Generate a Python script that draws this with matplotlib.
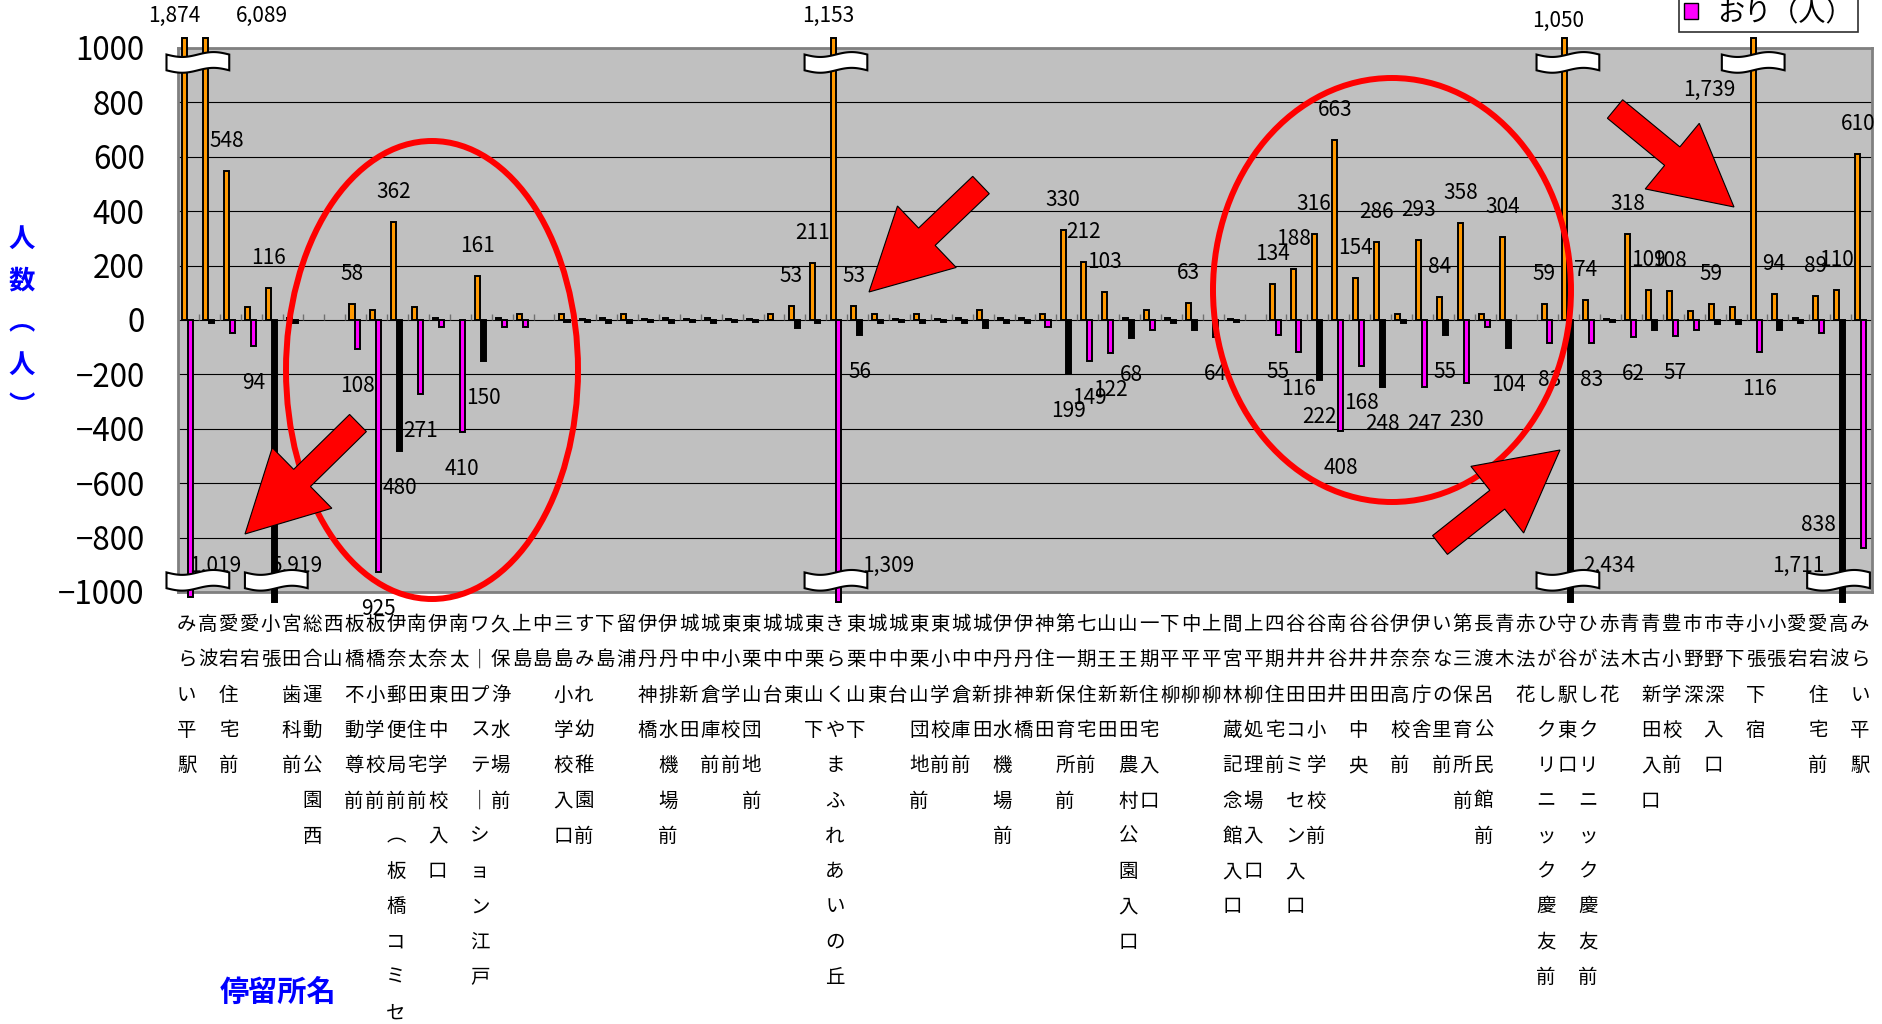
import matplotlib
matplotlib.use("Agg")
import matplotlib.pyplot as plt
import numpy as np
from matplotlib.patches import Ellipse, FancyArrow, Polygon, Patch
from matplotlib.transforms import Affine2D, blended_transform_factory

plt.rcParams['font.family'] = ['Noto Sans CJK JP', 'DejaVu Sans']

stops = [
    "みらい平駅", "高波", "愛宕住宅前", "愛宕", "小張", "宮田歯科前", "総合運動公園西", "西山",
    "板橋不動尊前", "板橋小学校前", "伊奈郵便局前（板橋コミセンター）", "南太田住宅前",
    "伊奈東中学校入口", "南太田", "ワープステーション江戸", "久保浄水場前", "上島", "中島",
    "三島小学校入口", "すみれ幼稚園前", "下島", "留浦", "伊丹神橋", "伊丹排水機場前", "城中新田",
    "城中倉庫前", "東小学校前", "東栗山団地前", "城中台", "城中東", "東栗山下",
    "きらくやまふれあいの丘", "東栗山下", "城中東", "城中台", "東栗山団地前", "東小学校前",
    "城中倉庫前", "城中新田", "伊丹排水機場前", "伊丹神橋", "神住新田", "第一保育所前",
    "七期住宅前", "山王新田", "山王新田農村公園入口", "一期住宅入口", "下平柳", "中平柳", "上平柳",
    "間宮林蔵記念館入口", "上平柳処理場入口", "四期住宅前", "谷井田コミセン入口", "谷井田小学校前",
    "南谷井", "谷井田中央", "谷井田", "伊奈高校前", "伊奈庁舎", "いなの里前", "第三保育所前",
    "長渡呂公民館前", "青木", "赤法花", "ひがしクリニック慶友前", "守谷駅東口",
    "ひがしクリニック慶友前", "赤法花", "青木", "青古新田入口", "豊小学校前", "市野深", "市野深入口",
    "寺下", "小張下宿", "小張", "愛宕", "愛宕住宅前", "高波", "みらい平駅",
]

# のり（人）
noru = [1874, 6089, 548, 48, 116, 8, 0, 0, 58, 35,
        362, 48, 8, 0, 161, 8, 23, 0, 23, 2,
        8, 23, 2, 8, 2, 8, 2, 2, 23, 53,
        211, 1153, 53, 23, 2, 23, 2, 8, 37, 8,
        8, 23, 330, 212, 103, 8, 35, 8, 63, 0,
        2, 0, 134, 188, 316, 663, 154, 286, 23, 293,
        84, 358, 23, 304, 0, 59, 1050, 74, 2, 318,
        109, 108, 33, 59, 48, 1739, 94, 8, 89, 110,
        610]

# おり（人）
oru = [1019, 12, 46, 94, 5919, 10, 0, 0, 108, 925,
       480, 271, 24, 410, 150, 24, 24, 0, 8, 8,
       10, 12, 8, 10, 8, 10, 8, 8, 0, 28,
       12, 1309, 56, 12, 8, 10, 8, 10, 28, 10,
       10, 24, 199, 149, 122, 68, 37, 10, 37, 64,
       8, 0, 55, 116, 222, 408, 168, 248, 12, 247,
       55, 230, 24, 104, 0, 83, 2434, 83, 8, 62,
       37, 57, 37, 15, 13, 116, 38, 10, 49, 1711,
       838]

# bar colour of the おり bars: m = magenta, k = black
oru_kind = "mkmmkkkkmm" "kmmmkmmkkk" "kkkkkkkkkk" "kmkkkkkkkk" "kmkmmkmkkm" \
           "kkmmkmmkkm" "kmmkkmkmkm" "kmmkkmkkmk" "m"

W, H = 1883, 1024
fig = plt.figure(figsize=(W / 100, H / 100), dpi=100)
px = Affine2D().scale(1 / W, -1 / H).translate(0, 1) + fig.transFigure

ax = fig.add_axes([178 / W, 1 - 592 / H, 1694 / W, 544 / H])
ax.set_facecolor("#C0C0C0")
ax.set_xlim(-0.5, len(stops) - 0.5)
ax.set_ylim(-1000, 1000)
ax.set_yticks(range(-1000, 1001, 200))
ax.set_yticklabels([f"{v}".replace("-", "\u2212") for v in range(-1000, 1001, 200)], fontsize=22.5)
ax.tick_params(axis="y", length=0, pad=24)
ax.set_xticks([])
ax.yaxis.grid(True, color="black", linewidth=0.8)
ax.set_axisbelow(True)
for s in ax.spines.values():
    s.set_color("#808080")
    s.set_linewidth(2)

x = np.arange(len(stops))
off_n, off_o, bw = -0.18, 0.10, 0.24
noru_a = np.array(noru, dtype=float)
oru_a = np.array(oru, dtype=float)
h_n = np.where(noru_a == 0, np.nan, np.clip(noru_a, None, 1035))
h_o = np.where(oru_a == 0, np.nan, -np.clip(oru_a, None, 1035))
colors = {"m": "#FF00FF", "k": "#000000"}

ax.bar(x + off_n, h_n, width=bw, color="#FF9900", edgecolor="black", linewidth=1.4,
       zorder=3, clip_on=False)
ax.bar(x + off_o, h_o, width=bw, color=[colors[c] for c in oru_kind], edgecolor="black",
       linewidth=1.4, zorder=3, clip_on=False)

# small ticks on the zero line between stops
ax.vlines(np.arange(len(stops) + 1) - 0.5, 0, 22, color="#707070", linewidth=1, zorder=2)

# value labels
manual = {("n", 0): (-10, 16), ("n", 1): (56, 16), ("n", 31): (-5, 16), ("n", 66): (-7, 21),
          ("n", 75): (-44, 90), ("o", 0): (25, 566), ("o", 4): (22, 566), ("o", 31): (49, 566),
          ("o", 66): (38, 566), ("o", 79): (-44, 566), ("o", 80): (-45, 525)}
for key, vals, off, sign in (("n", noru, off_n, 1), ("o", oru, off_o, -1)):
    for i, v in enumerate(vals):
        if v < 50:
            continue
        xi = i + off
        if (key, i) in manual:
            dx, ypx = manual[(key, i)]
            ax.annotate(f"{v:,}", xy=(xi, 1 - ypx / H), xycoords=("data", "figure fraction"),
                        xytext=(dx, 0), textcoords="offset pixels", ha="center", va="center",
                        fontsize=15, zorder=4, annotation_clip=False)
        else:
            ax.annotate(f"{v:,}", xy=(xi, sign * v), xytext=(0, 30 if sign > 0 else -37),
                        textcoords="offset pixels", ha="center", va="center", fontsize=15,
                        zorder=4, annotation_clip=False)

# axis break marks on the long bars
def brk(xc, yc):
    t = np.linspace(0, 1, 40)
    xs = xc - 1.5 + 3 * t
    wave = -9 * np.sin(2 * np.pi * t)
    pts = list(zip(xs, yc + 29 + wave)) + list(zip(xs[::-1], (yc - 29 + wave)[::-1]))
    ax.add_patch(Polygon(pts, closed=True, facecolor="white", edgecolor="black",
                         linewidth=1.5, zorder=6, clip_on=False))

for xc in [0.45, 31 - 0.04, 66 - 0.04, 75 + off_n]:
    brk(xc, 947)
for xc in [0.45, 4.2, 31 - 0.04, 66 - 0.04, 79 - 0.1]:
    brk(xc, -957)

# category labels, written top to bottom
vert = str.maketrans({"ー": "｜", "（": "︵", "）": "︶"})
tr = blended_transform_factory(ax.transData, fig.transFigure)
for i, name in enumerate(stops):
    for j, ch in enumerate(name.translate(vert)):
        y = 624.5 + j * 35.3
        if y > H + 20:
            break
        ax.text(i - 0.08, 1 - y / H, ch, transform=tr, ha="center", va="center",
                fontsize=14, clip_on=False)

for j, ch in enumerate("人数︵人︶"):
    fig.text(22 / W, 1 - (239 + j * 42) / H, ch, ha="center", va="center", fontsize=19,
             fontweight="bold", color="#0000FF")
fig.text(278 / W, 1 - 992 / H, "停留所名", ha="center", va="center", fontsize=21,
         fontweight="bold", color="#0000FF")

# legend, partly above the top edge
handles = [Patch(facecolor="#FF9900", edgecolor="black"), Patch(facecolor="#FF00FF", edgecolor="black")]
leg = fig.legend(handles, ["のり（人）", "おり（人）"], loc="lower left",
                 bbox_to_anchor=(1679 / W, 1 - 32 / H), fontsize=19.5, frameon=True,
                 fancybox=False, edgecolor="#303030", framealpha=1, handlelength=0.5,
                 handleheight=0.5, handletextpad=0.7, borderpad=0.2, borderaxespad=0,
                 labelspacing=0.4)
leg.get_frame().set_linewidth(1.2)

# red highlights
for cx, cy, ew, eh in [(432, 370, 292, 458), (1392, 290, 358, 424)]:
    fig.add_artist(Ellipse((cx, cy), ew, eh, transform=px, fill=False, edgecolor="#FF0000",
                           linewidth=4.3))
for (x0, y0), (x1, y1) in [((358, 423), (245, 534)), ((981, 185), (869, 292)),
                           ((1440, 545), (1560, 450)), ((1615, 109), (1734, 207))]:
    fig.add_artist(FancyArrow(x0, y0, x1 - x0, y1 - y0, width=24, head_width=85,
                              head_length=80, length_includes_head=True, transform=px,
                              facecolor="#FF0000", edgecolor="black", linewidth=0.8))

fig.savefig("out.png", dpi=100)
